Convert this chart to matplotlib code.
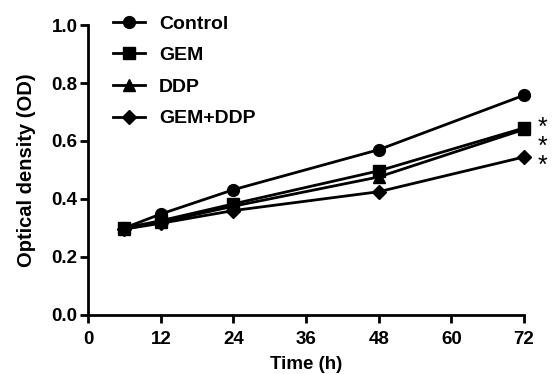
import numpy as np
from matplotlib import pyplot as plt

plt.rcParams['font.family'] = ['Liberation Sans', 'DejaVu Sans']
plt.rcParams['font.weight'] = 'bold'

# data
times = [6, 12, 24, 48, 72]
control = [0.300, 0.348, 0.432, 0.570, 0.758]
gem = [0.300, 0.325, 0.383, 0.497, 0.645]
ddp = [0.296, 0.320, 0.375, 0.476, 0.640]
gemDdp = [0.296, 0.316, 0.360, 0.425, 0.545]
seriesNames = ['Control', 'GEM', 'DDP', 'GEM+DDP']
markers = ['o', 's', '^', 'D']
xTicks = [0, 12, 24, 36, 48, 60, 72]
yTicks = [0.0, 0.2, 0.4, 0.6, 0.8, 1.0]
sigMarks = '*\n*\n*'   # significance for GEM, DDP, GEM+DDP vs control

fig = plt.figure(figsize=(5.54, 3.74), dpi=100)
ax = fig.add_axes([0.159, 0.158, 0.787, 0.775])

allSeries = [control, gem, ddp, gemDdp]
sizes = {'o': 8.5, 's': 8, '^': 8, 'D': 7.5}
for vals, name, mk in zip(allSeries, seriesNames, markers):
    ax.plot(times, vals, color='black', lw=2, marker=mk, ms=sizes[mk], label=name,
            clip_on=False, zorder=3)

ax.text(74.3, 0.58, sigMarks, fontsize=18, fontweight='normal', ha='left', va='center',
        linespacing=0.74, clip_on=False)

ax.set_xlim(0, 72)
ax.set_ylim(0, 1.0)
ax.set_xticks(xTicks)
ax.set_yticks(yTicks)
ax.set_yticklabels(['%.1f' % v for v in yTicks])
ax.tick_params(labelsize=13.5, width=2, length=5.5, direction='out')
ax.tick_params(axis='y', pad=2)
ax.tick_params(axis='x', pad=6)
for s in ['top', 'right']:
    ax.spines[s].set_visible(False)
for s in ['left', 'bottom']:
    ax.spines[s].set_linewidth(2)

ax.set_xlabel('Time (h)', fontsize=13.5, fontweight='bold', labelpad=5.5)
ax.set_ylabel('Optical density (OD)', fontsize=14.5, fontweight='bold', labelpad=11)

ax.legend(loc='upper left', bbox_to_anchor=(0.016, 1.095), frameon=False, fontsize=14,
          handlelength=1.65, labelspacing=0.72, handletextpad=0.75)

plt.savefig('out.png', dpi=100)
